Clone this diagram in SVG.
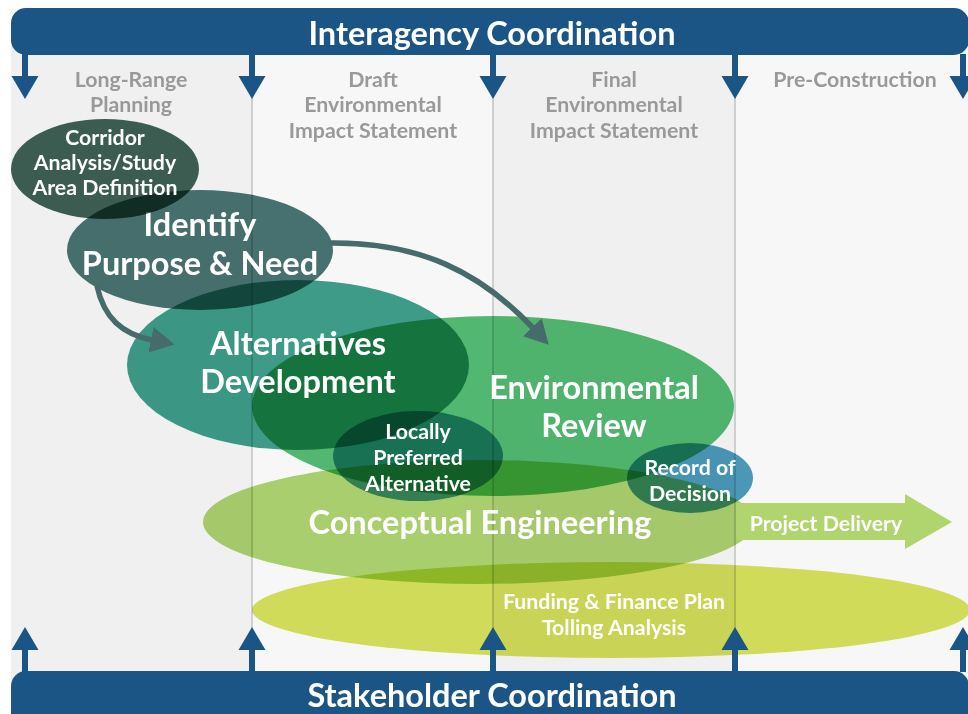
<svg xmlns="http://www.w3.org/2000/svg" width="968" height="714" viewBox="0 0 968 714">
<defs>
<style>
.bar{fill:#1b5585}
.bartxt{font-family:Lato,"Liberation Sans",sans-serif;font-weight:700;font-size:32.5px;fill:#ffffff;text-anchor:middle}
.hdr{font-family:Lato,"Liberation Sans",sans-serif;font-weight:700;font-size:21.3px;fill:#999999;text-anchor:middle}
.big{font-family:Lato,"Liberation Sans",sans-serif;font-weight:700;font-size:32.5px;fill:#ffffff;text-anchor:middle}
.sm{font-family:Lato,"Liberation Sans",sans-serif;font-weight:700;font-size:21.3px;fill:#ffffff;text-anchor:middle}
.blob{mix-blend-mode:multiply}
.div{stroke:#c2c2c2;stroke-width:1.5;fill:none}
.conn{fill:none;stroke:#476b6b;stroke-width:5.5}
</style>
<marker id="ah" markerUnits="userSpaceOnUse" viewBox="0 -13 24 26" markerWidth="24" markerHeight="26" refX="1" refY="0" orient="auto">
<path d="M0,-13 L24,0 L0,13 z" fill="#476b6b"/>
</marker>
<path id="dn" d="M-3,0 H3 V22 H13.5 L0,45 L-13.5,22 H-3 z"/>
<path id="up" d="M-3,0 H3 V-22 H13.5 L0,-45 L-13.5,-22 H-3 z"/>
</defs>
<rect width="968" height="714" fill="#ffffff"/>
<g id="columns">
<rect x="11" y="40" width="241" height="650" fill="#f0f0f0"/>
<rect x="252" y="40" width="241" height="650" fill="#f7f7f7"/>
<rect x="493" y="40" width="242" height="650" fill="#f0f0f0"/>
<rect x="735" y="40" width="233" height="650" fill="#f7f7f7"/>
<path class="div" d="M252,55 V671 M493,55 V671 M735,55 V671"/>
<text class="hdr" x="131" y="87">Long-Range</text>
<text class="hdr" x="131" y="112">Planning</text>
<text class="hdr" x="373" y="87">Draft</text>
<text class="hdr" x="373" y="112">Environmental</text>
<text class="hdr" x="373" y="138">Impact Statement</text>
<text class="hdr" x="614" y="87">Final</text>
<text class="hdr" x="614" y="112">Environmental</text>
<text class="hdr" x="614" y="138">Impact Statement</text>
<text class="hdr" x="855" y="87">Pre-Construction</text>
</g>
<g id="funding">
<ellipse class="blob" cx="611" cy="610" rx="359" ry="48" fill="#d6e25c"/>
<text class="sm" x="614" y="609">Funding &amp; Finance Plan</text>
<text class="sm" x="614" y="635">Tolling Analysis</text>
</g>
<g id="conceptual">
<ellipse class="blob" cx="479" cy="522" rx="276" ry="62" fill="#afd572"/>
<text class="big" x="480" y="534">Conceptual Engineering</text>
</g>
<g id="environmental">
<ellipse class="blob" cx="493" cy="406" rx="241" ry="90" fill="#54be75"/>
<text class="big" x="594" y="399">Environmental</text>
<text class="big" x="594" y="437">Review</text>
</g>
<g id="alternatives">
<ellipse class="blob" cx="298" cy="365" rx="171" ry="85" fill="#40a08c"/>
<text class="big" x="298" y="355">Alternatives</text>
<text class="big" x="298" y="393">Development</text>
</g>
<g id="identify">
<ellipse class="blob" cx="200" cy="250" rx="133" ry="60" fill="#497574"/>
<text class="big" x="200" y="236">Identify</text>
<text class="big" x="200" y="275">Purpose &amp; Need</text>
</g>
<g id="corridor">
<ellipse class="blob" cx="105" cy="169" rx="94" ry="50" fill="#3f6256"/>
<text class="sm" x="105" y="145">Corridor</text>
<text class="sm" x="105" y="170">Analysis/Study</text>
<text class="sm" x="105" y="195">Area Definition</text>
</g>
<g id="locally-preferred">
<ellipse class="blob" cx="418" cy="456" rx="85" ry="45" fill="#4c9cbd"/>
<text class="sm" x="418" y="439">Locally</text>
<text class="sm" x="418" y="465">Preferred</text>
<text class="sm" x="418" y="491">Alternative</text>
</g>
<g id="record-of-decision">
<ellipse class="blob" cx="690" cy="478" rx="63" ry="35" fill="#4c9cbd"/>
<text class="sm" x="690" y="475">Record of</text>
<text class="sm" x="690" y="501">Decision</text>
</g>
<g id="project-delivery">
<path d="M736,503 H905 V494 L952,522 L905,549 V540 H736 z" fill="#b0d46e"/>
<text class="sm" x="826" y="531">Project Delivery</text>
</g>
<g id="connectors">
<path class="conn" d="M97,286 C104,318 122,334 152,340" marker-end="url(#ah)"/>
<path class="conn" d="M330,243 C420,242 480,272 533,328" marker-end="url(#ah)"/>
</g>
<g id="interagency">
<rect class="bar" x="11" y="8" width="958" height="47" rx="15"/>
<g class="bar">
<use href="#dn" x="25" y="54"/>
<use href="#dn" x="252" y="54"/>
<use href="#dn" x="493" y="54"/>
<use href="#dn" x="735" y="54"/>
<use href="#dn" x="963" y="54"/>
</g>
<text class="bartxt" x="492" y="45">Interagency Coordination</text>
</g>
<g id="stakeholder">
<rect class="bar" x="11" y="671" width="958" height="60" rx="15"/>
<g class="bar">
<use href="#up" x="25" y="672"/>
<use href="#up" x="252" y="672"/>
<use href="#up" x="493" y="672"/>
<use href="#up" x="735" y="672"/>
<use href="#up" x="963" y="672"/>
</g>
<text class="bartxt" x="492" y="707">Stakeholder Coordination</text>
</g>
</svg>
